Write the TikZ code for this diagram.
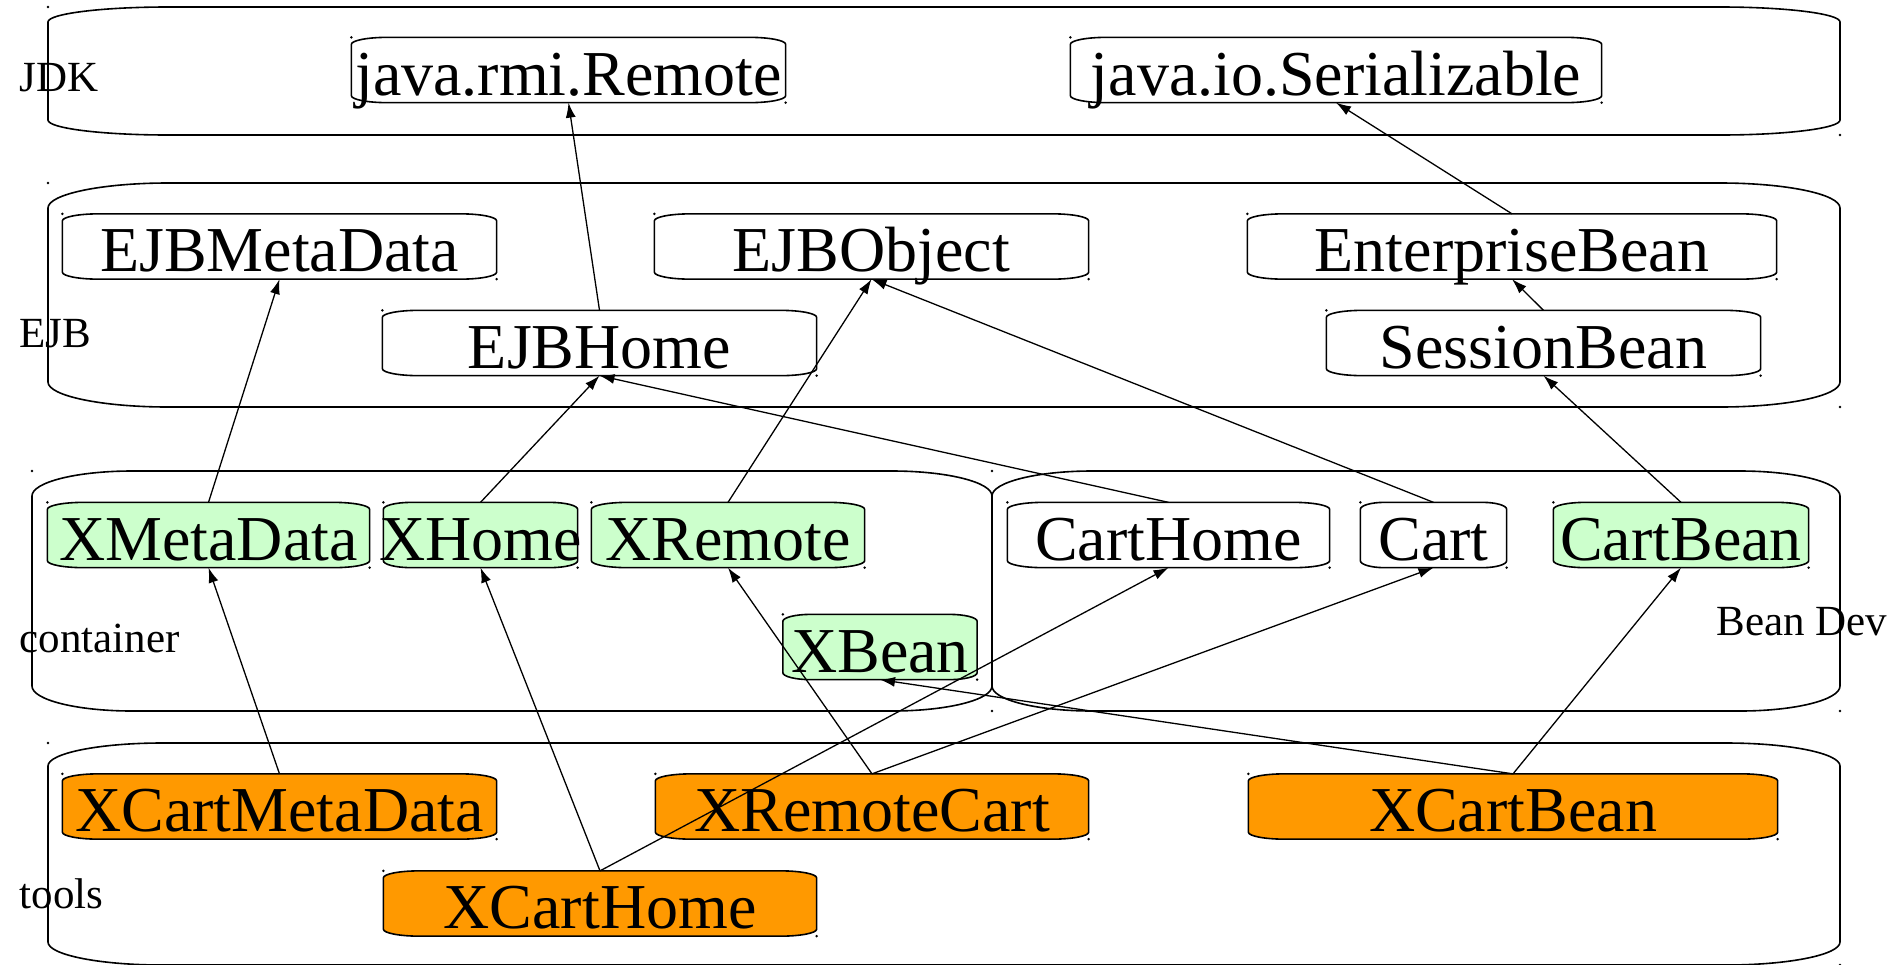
\documentclass[tikz,border=0pt]{standalone}
\usepackage{fontspec}
\setmainfont{Liberation Serif}
\usetikzlibrary{arrows.meta,calc,backgrounds}

\definecolor{xgreen}{HTML}{CCFFCC}
\definecolor{xorange}{HTML}{FF9900}

% tube outline: #1 top left, #2 bottom right, #3/#4 corner radii, #5 options
\newcommand{\tubebox}[5]{%
  \draw[#5] ($(#1)+(0pt,-#4)$) -- ($(#1|-#2)+(0pt,#4)$)
    arc[start angle=180,end angle=270,x radius=#3,y radius=#4]
    -- ($(#2)+(-#3,0pt)$)
    arc[start angle=270,end angle=360,x radius=#3,y radius=#4]
    -- ($(#2|-#1)+(0pt,-#4)$)
    arc[start angle=0,end angle=90,x radius=#3,y radius=#4]
    -- ($(#1)+(#3,0pt)$)
    arc[start angle=90,end angle=180,x radius=#3,y radius=#4]
    -- cycle;
  \fill (#1) circle (0.7pt) (#2) circle (0.7pt);}

\tikzset{
  box/.style={inner sep=0pt, minimum height=32pt, text height=28.5pt,
    text depth=3.5pt, font=\fontsize{32}{36}\selectfont},
  layer/.style={anchor=base west, inner sep=0pt, font=\fontsize{21.5}{24}\selectfont},
  boxline/.style={line width=0.8pt}
}

\begin{document}
\begin{tikzpicture}[x=0.5pt, y=-0.5pt, >={Latex[length=7.5pt,width=5pt]}, line width=0.65pt]
  \useasboundingbox (0,0) rectangle (1888,964);
  % layers
  \coordinate (jdk-nw) at (48,7);    \coordinate (jdk-se) at (1840,135);
  \coordinate (ejb-nw) at (48,183);  \coordinate (ejb-se) at (1840,407);
  \coordinate (cnt-nw) at (32,471);  \coordinate (cnt-se) at (992,711);
  \coordinate (dev-nw) at (992,471); \coordinate (dev-se) at (1840,711);
  \coordinate (tls-nw) at (48,743);  \coordinate (tls-se) at (1840,965);
  \node[layer] (l-jdk) at (19,91) {JDK};
  \node[layer] (l-ejb) at (19,347) {EJB};
  \node[layer] (l-cnt) at (19,652) {container};
  \node[layer] (l-tls) at (19,908) {tools};
  \node[layer] (l-dev) at (1716,635) {Bean Dev};
  % JDK
  \node[box, minimum width=216.5pt] (jrmi) at (568.5,70) {java.rmi.Remote};
  \node[box, minimum width=265pt] (jser) at (1336,70) {java.io.Serializable};
  % EJB
  \node[box, minimum width=216.5pt] (ejbmeta) at (279.5,246.5) {EJBMetaData};
  \node[box, minimum width=216.5pt] (ejbobj) at (871.5,246.5) {EJBObject};
  \node[box, minimum width=264pt] (entbean) at (1512,246.5) {EnterpriseBean};
  \node[box, minimum width=216.5pt] (ejbhome) at (599.5,343) {EJBHome};
  \node[box, minimum width=216.5pt] (sessbean) at (1543.5,343) {SessionBean};
  % container and bean developer
  \node[box, minimum width=160.5pt] (xmeta) at (208.5,535) {XMetaData};
  \node[box, minimum width=96.5pt] (xhome) at (480.5,535) {\makebox[0pt]{XHome}};
  \node[box, minimum width=136pt] (xremote) at (728,535) {XRemote};
  \node[box, minimum width=96.5pt] (xbean) at (880,647) {XBean};
  \node[box, minimum width=160.5pt] (carthome) at (1168.5,535) {CartHome};
  \node[box, minimum width=72.5pt] (cart) at (1433.5,535) {Cart};
  \node[box, minimum width=127pt] (cartbean) at (1681,535) {CartBean};
  % tools
  \node[box, minimum width=216.5pt] (xcartmeta) at (279.5,806.5) {XCartMetaData};
  \node[box, minimum width=216pt] (xremcart) at (872,806.5) {XRemoteCart};
  \node[box, minimum width=264pt] (xcartbean) at (1513,806.5) {XCartBean};
  \node[box, minimum width=216pt] (xcarthome) at (600,903.5) {XCartHome};
  \begin{scope}[on background layer]
    \tubebox{jdk-nw}{jdk-se}{60pt}{7.5pt}{boxline}
    \tubebox{ejb-nw}{ejb-se}{60pt}{12.5pt}{boxline}
    \tubebox{cnt-nw}{cnt-se}{50pt}{12.5pt}{boxline}
    \tubebox{dev-nw}{dev-se}{50pt}{12.5pt}{boxline}
    \tubebox{tls-nw}{tls-se}{57pt}{11.5pt}{boxline}
    \tubebox{jrmi.north west}{jrmi.south east}{18pt}{3.5pt}{boxline,fill=white}
    \tubebox{jser.north west}{jser.south east}{18pt}{3.5pt}{boxline,fill=white}
    \tubebox{ejbmeta.north west}{ejbmeta.south east}{18pt}{3.5pt}{boxline,fill=white}
    \tubebox{ejbobj.north west}{ejbobj.south east}{18pt}{3.5pt}{boxline,fill=white}
    \tubebox{entbean.north west}{entbean.south east}{18pt}{3.5pt}{boxline,fill=white}
    \tubebox{ejbhome.north west}{ejbhome.south east}{18pt}{3.5pt}{boxline,fill=white}
    \tubebox{sessbean.north west}{sessbean.south east}{18pt}{3.5pt}{boxline,fill=white}
    \tubebox{xmeta.north west}{xmeta.south east}{18pt}{3.5pt}{boxline,fill=xgreen}
    \tubebox{xhome.north west}{xhome.south east}{14pt}{3.5pt}{boxline,fill=xgreen}
    \tubebox{xremote.north west}{xremote.south east}{18pt}{3.5pt}{boxline,fill=xgreen}
    \tubebox{xbean.north west}{xbean.south east}{14pt}{3.5pt}{boxline,fill=xgreen}
    \tubebox{carthome.north west}{carthome.south east}{18pt}{3.5pt}{boxline,fill=white}
    \tubebox{cart.north west}{cart.south east}{12pt}{3.5pt}{boxline,fill=white}
    \tubebox{cartbean.north west}{cartbean.south east}{16pt}{3.5pt}{boxline,fill=xgreen}
    \tubebox{xcartmeta.north west}{xcartmeta.south east}{18pt}{3.5pt}{boxline,fill=xorange}
    \tubebox{xremcart.north west}{xremcart.south east}{18pt}{3.5pt}{boxline,fill=xorange}
    \tubebox{xcartbean.north west}{xcartbean.south east}{18pt}{3.5pt}{boxline,fill=xorange}
    \tubebox{xcarthome.north west}{xcarthome.south east}{18pt}{3.5pt}{boxline,fill=xorange}
  \end{scope}
  % inheritance
  \draw[->] (ejbhome.north) -- (jrmi.south);
  \draw[->] (entbean.north) -- (jser.south);
  \draw[->] (sessbean.north) -- (entbean.south);
  \draw[->] (xmeta.north) -- (ejbmeta.south);
  \draw[->] (xhome.north) -- (ejbhome.south);
  \draw[->] (xremote.north) -- (ejbobj.south);
  \draw[->] (carthome.north) -- (ejbhome.south);
  \draw[->] (cart.north) -- (ejbobj.south);
  \draw[->] (cartbean.north) -- (sessbean.south);
  % generated classes
  \draw[->] (xcartmeta.north) -- (xmeta.south);
  \draw[->] (xcarthome.north) -- (xhome.south);
  \draw[->] (xcarthome.north) -- (carthome.south);
  \draw[->] (xremcart.north) -- (xremote.south);
  \draw[->] (xremcart.north) -- (cart.south);
  \draw[->] (xcartbean.north) -- (xbean.south);
  \draw[->] (xcartbean.north) -- (cartbean.south);
\end{tikzpicture}
\end{document}
